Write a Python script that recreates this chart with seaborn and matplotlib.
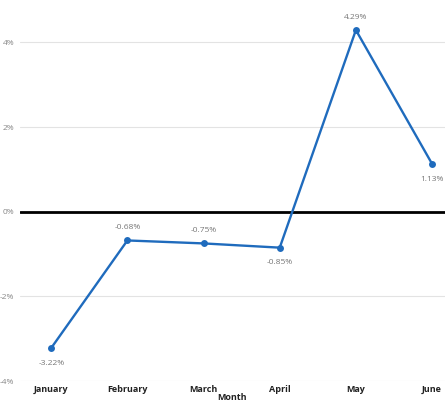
import matplotlib
matplotlib.use("Agg")
import matplotlib.pyplot as plt
import seaborn as sns
import pandas as pd
from matplotlib.ticker import FuncFormatter

months = ["January", "February", "March", "April", "May", "June"]
change_pct = [-3.22, -0.68, -0.75, -0.85, 4.29, 1.13]
y_ticks = [-4, -2, 0, 2, 4]

# where each data label sits relative to its point
label_above = [False, True, True, False, True, False]

df = pd.DataFrame({"Month": months, "Change": change_pct})

sns.set_theme(style="white")
plt.rcParams["font.family"] = ["Open Sans", "DejaVu Sans"]

fig = plt.figure(figsize=(4.45, 4.03), dpi=100)
ax = fig.add_axes([20 / 445, 22 / 403, 425 / 445, 381 / 403])

line_color = "#1f6bbd"
sns.lineplot(data=df, x="Month", y="Change", ax=ax, color=line_color,
             linewidth=1.7, marker="o", markersize=5, markeredgewidth=0, sort=False)

for i, (m, v) in enumerate(zip(months, change_pct)):
    off = 9 if label_above[i] else -11
    ax.annotate(f"{v:.2f}%", (i, v), xytext=(0, off), textcoords="offset points",
                ha="center", va="center", fontsize=6, color="#777777")

ax.axhline(0, color="black", linewidth=2, zorder=1)
ax.set_yticks(y_ticks)
ax.yaxis.set_major_formatter(FuncFormatter(lambda v, p: f"{v:.0f}%"))
ax.grid(axis="y", color="#e3e3e3", linewidth=0.8)
ax.set_axisbelow(True)
ax.set_ylim(-4, 5.0)
ax.set_xlim(-0.41, 5.17)

for s in ax.spines.values():
    s.set_visible(False)

ax.tick_params(axis="y", labelsize=6, labelcolor="#888888", length=0, pad=4)
ax.tick_params(axis="x", labelsize=6.5, labelcolor="#222222", length=0, pad=3)
for t in ax.get_xticklabels():
    t.set_fontweight("bold")
ax.set_ylabel("")
ax.set_xlabel("Month", fontsize=6.5, fontweight="bold", color="#222222", labelpad=-1)

fig.savefig("out.png", dpi=100)
